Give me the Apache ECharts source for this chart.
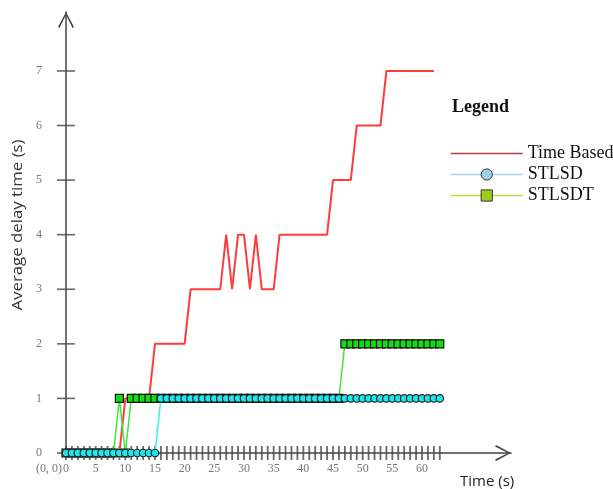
<!DOCTYPE html>
<html>
<head>
<meta charset="utf-8">
<script src="https://cdn.jsdelivr.net/npm/echarts@6/dist/echarts.min.js"></script>
<style>html,body{margin:0;padding:0;background:#fff}#c{width:613px;height:489px}</style>
</head>
<body>
<div id="c"></div>
<script>
// ---- data ----
const timeBasedX = [0, 9, 10, 14, 15, 20, 21, 26, 27, 28, 29, 30, 31, 32, 33, 35, 36, 44, 45, 48, 49, 53, 54, 62];
const timeBasedY = [0, 0, 1, 1, 2, 2, 3, 3, 4, 3, 4, 4, 3, 4, 3, 3, 4, 4, 5, 5, 6, 6, 7, 7];
const sampleX = [0,1,2,3,4,5,6,7,8,9,10,11,12,13,14,15,16,17,18,19,20,21,22,23,24,25,26,27,28,29,30,31,32,33,34,35,36,37,38,39,40,41,42,43,44,45,46,47,48,49,50,51,52,53,54,55,56,57,58,59,60,61,62,63];
const stlsdY = [0,0,0,0,0,0,0,0,0,0,0,0,0,0,0,0,1,1,1,1,1,1,1,1,1,1,1,1,1,1,1,1,1,1,1,1,1,1,1,1,1,1,1,1,1,1,1,1,1,1,1,1,1,1,1,1,1,1,1,1,1,1,1,1];
const stlsdtY = [0,0,0,0,0,0,0,0,0,1,0,1,1,1,1,1,1,1,1,1,1,1,1,1,1,1,1,1,1,1,1,1,1,1,1,1,1,1,1,1,1,1,1,1,1,1,1,2,2,2,2,2,2,2,2,2,2,2,2,2,2,2,2,2];
const xTickLabels = [0, 5, 10, 15, 20, 25, 30, 35, 40, 45, 50, 55, 60];
const yTickLabels = [0, 1, 2, 3, 4, 5, 6, 7];
const seriesNames = ['Time Based', 'STLSD', 'STLSDT'];

const zip = (xs, ys) => xs.map((x, i) => [x, ys[i]]);
const xTickMarks = sampleX.map(x => [x, 0]);
const yTickMarks = yTickLabels.map(y => [0, y]);

const chevron = 'path://M8,0 L16,15 L14.6,16 L8,3 L1.4,16 L0,15 Z';
const axisColor = '#444';

const chart = echarts.init(document.getElementById('c'), null, {renderer: 'canvas'});
chart.setOption({
  animation: false,
  backgroundColor: '#fff',
  title: {
    text: 'Legend', left: 452, top: 98, padding: 0,
    textStyle: {fontFamily: 'Liberation Serif', fontWeight: 'bold', fontSize: 18, color: '#111'}
  },
  legend: {
    orient: 'vertical', left: 450, top: 143, padding: 0,
    itemWidth: 72, itemHeight: 14, itemGap: 0,
    textStyle: {fontFamily: 'Liberation Serif', fontSize: 18, color: '#111', lineHeight: 21},
    data: [
      {name: seriesNames[0], itemStyle: {opacity: 0}, lineStyle: {color: '#b43a4a', width: 1.5}},
      {name: seriesNames[1], itemStyle: {color: '#9fd2e6', borderColor: '#333', borderWidth: 1}, lineStyle: {color: '#a9d3e3', width: 1.5}},
      {name: seriesNames[2], itemStyle: {color: '#9ccc1a', borderColor: '#333', borderWidth: 1}, lineStyle: {color: '#bcd94a', width: 1.5}}
    ]
  },
  grid: {left: 66, right: 102, top: 12, bottom: 36, containLabel: false},
  xAxis: {
    type: 'value', min: 0, max: 75, interval: 5,
    axisLine: {show: true, onZero: false, symbol: ['none', chevron], symbolSize: [16, 16], symbolOffset: [0, -8],
      lineStyle: {color: axisColor, width: 1.5}},
    axisTick: {show: false},
    splitLine: {show: false},
    axisLabel: {
      margin: 10, color: '#777', fontFamily: 'Liberation Serif', fontSize: 12,
      formatter: v => xTickLabels.indexOf(v) >= 0 ? String(v) : ''
    }
  },
  yAxis: {
    type: 'value', min: 0, max: 8.08, interval: 1,
    axisLine: {show: true, onZero: false, symbol: ['none', chevron], symbolSize: [16, 16], symbolOffset: [0, -8],
      lineStyle: {color: axisColor, width: 1.5}},
    axisTick: {show: false},
    splitLine: {show: false},
    axisLabel: {
      margin: 24, color: '#777', fontFamily: 'Liberation Serif', fontSize: 12,
      formatter: v => yTickLabels.indexOf(v) >= 0 ? String(v) : ''
    }
  },
  graphic: [
    {type: 'text', x: 62, y: 469, style: {text: '(0, 0)', fill: '#777', font: '12px "Liberation Serif"', textAlign: 'right', textVerticalAlign: 'middle'}},
    {type: 'text', x: 460, y: 482, style: {text: 'Time (s)', fill: '#222', font: '15px "Open Sans"', textAlign: 'left', textVerticalAlign: 'middle'}},
    {type: 'text', x: 18, y: 225, rotation: Math.PI / 2, scaleX: 1.2, style: {text: 'Average delay time (s)', fill: '#333', font: '14px "Open Sans"', textAlign: 'center', textVerticalAlign: 'middle'}}
  ],
  series: [
    {name: 'xticks', type: 'scatter', silent: true, symbol: 'rect', symbolSize: [1.8, 14], itemStyle: {color: axisColor}, data: xTickMarks, z: 1},
    {name: 'yticks', type: 'scatter', silent: true, symbol: 'rect', symbolSize: [18, 1.6], itemStyle: {color: axisColor}, data: yTickMarks, z: 1},
    {name: seriesNames[0], type: 'line', showSymbol: false, symbol: 'none', lineStyle: {color: '#ff3b3b', width: 2}, itemStyle: {color: '#ff3b3b'}, data: zip(timeBasedX, timeBasedY), z: 2},
    {name: seriesNames[2], type: 'line', symbol: 'rect', symbolSize: 8, lineStyle: {color: '#3de83d', width: 1.5},
      itemStyle: {color: '#11dd11', borderColor: '#111', borderWidth: 1.2}, data: zip(sampleX, stlsdtY), z: 3},
    {name: seriesNames[1], type: 'line', symbol: 'circle', symbolSize: 7.5, lineStyle: {color: '#3cf0f0', width: 1.5},
      itemStyle: {color: '#1ee6ec', borderColor: '#222', borderWidth: 1.2}, data: zip(sampleX, stlsdY), z: 4}
  ]
});
</script>
</body>
</html>
